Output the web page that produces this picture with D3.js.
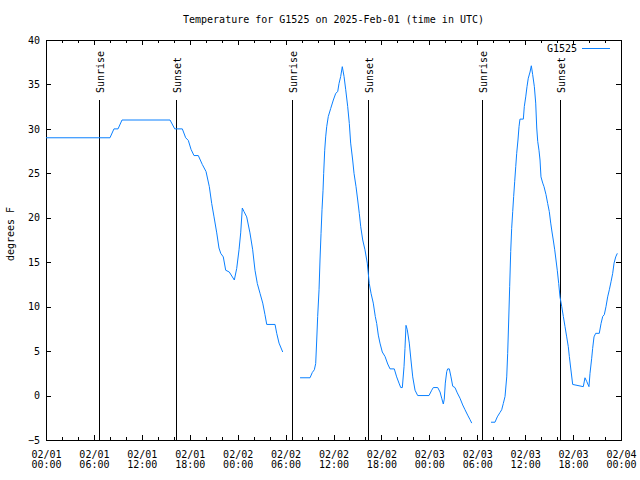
<!DOCTYPE html>
<html>
<head>
<meta charset="utf-8">
<script src="https://cdn.jsdelivr.net/npm/d3@7"></script>
<style>
  html, body { margin: 0; padding: 0; background: #fff; }
  svg { display: block; }
  text { font-family: "DejaVu Sans Mono", monospace; font-size: 10px; fill: #000; }
</style>
</head>
<body>
<svg id="chart" width="640" height="480"></svg>
<script>
// ---- data ----
const titleText = "Temperature for G1525 on 2025-Feb-01 (time in UTC)";
const yLabel = "degrees F";
const seriesName = "G1525";
const startTime = "2025-02-01T00:00:00Z";
const endTime = "2025-02-04T00:00:00Z";

// hours after start (UTC), null temperature = gap in record
const hours = [
  0, 8.01, 8.51, 9.02, 9.52, 15.53, 16.12, 17.07, 17.49, 17.82, 18.16, 18.53, 19.07, 19.57, 20.04,
  20.45, 20.75, 21.04, 21.38, 21.66, 21.88, 22.20, 22.50, 22.95, 23.58, 23.88, 24.17, 24.38, 24.58,
  24.79, 25.13, 25.54, 25.88, 26.17, 26.46, 26.80, 27.14, 27.42, 27.64, 28.68, 28.89, 29.18, 29.64,
  30.7,
  31.81, 33.06, 33.35, 33.60, 33.77, 33.90, 34.02, 34.19, 34.31, 34.44, 34.56, 34.69, 34.77, 34.90,
  35.02, 35.15, 35.35, 35.65, 35.98, 36.28, 36.53, 36.69, 36.90, 37.10, 37.32, 37.53, 37.78, 37.98,
  38.15, 38.40, 38.57, 38.82, 39.03, 39.23, 39.41, 39.66, 39.94, 40.23, 40.48, 40.70, 40.98, 41.23,
  41.41, 41.61, 41.82, 42.11, 42.45, 42.79, 43.08, 43.61, 43.91, 44.20, 44.42, 44.62, 44.83, 44.95,
  45.08, 45.24, 45.49, 45.70, 45.92, 46.21, 46.54, 47.96, 48.30, 48.50, 49.05, 49.34, 49.55, 49.75,
  49.87, 50.00, 50.18, 50.30, 50.50, 50.71, 50.93, 51.21, 51.50, 51.84, 52.18, 52.47, 52.80, 53.09,
  53.31,
  54.5,
  55.72, 56.22, 56.51, 56.85, 57.06, 57.26, 57.48, 57.69, 57.81, 57.94, 58.06, 58.19, 58.31, 58.44,
  58.56, 58.69, 58.82, 58.94, 59.10, 59.23, 59.35, 59.77, 59.89, 60.07, 60.23, 60.39, 60.61, 60.77,
  60.94, 61.15, 61.32, 61.45, 61.57, 61.73, 61.86, 61.98, 62.20, 62.36, 62.61, 62.82, 63.02, 63.20,
  63.36, 63.52, 63.70, 63.86, 64.02, 64.20, 64.36, 64.58, 64.78, 64.99, 65.20, 65.40, 65.53, 65.70,
  65.95, 67.28, 67.49, 67.70, 67.99, 68.12, 68.33, 68.45, 68.62, 68.83, 69.28, 69.50, 69.71, 69.91,
  70.12, 70.33, 70.54, 70.75, 70.96, 71.13, 71.34, 71.54
];
const temps = [
  29, 29, 30, 30, 31, 31, 30, 30, 29, 28.7, 27.7, 27, 27, 26, 25.2,
  23.5, 21.6, 20.1, 18.3, 16.6, 16, 15.6, 14.1, 13.9, 13, 14.3, 16.4, 18.3, 21.1,
  20.7, 20.1, 18.3, 16.4, 14.1, 12.6, 11.5, 10.4, 9.1, 8, 8, 7, 5.9, 4.9,
  null,
  2, 2, 2.6, 2.9, 3.6, 6.25, 8.9, 11.9, 15.25, 18.25, 20.9, 23.1, 25, 27.6,
  29.1, 30.25, 31.4, 32.3, 33.25, 34, 34.2, 35.1, 35.9, 37, 35.9, 34.4, 32.5, 30.6,
  28.4, 26.5, 25, 23.5, 22, 20.5, 19, 17.5, 16.4, 14.9, 12.6, 11.5, 10.4, 8.9,
  8.1, 6.8, 5.9, 4.9, 4.4, 3.55, 3, 3, 2.1, 1.4, 0.9, 0.9, 3.25, 5.3,
  7.9, 7.4, 5.9, 4, 2.1, 0.6, 0, 0, 0.6, 0.9, 0.9, 0.4, -0.3, -0.95,
  -0.4, 1.4, 2.7, 3, 3, 2.1, 1.05, 0.9, 0.3, -0.3, -1.06, -1.6, -2.2, -2.7,
  -3.1,
  null,
  -3, -3, -2.4, -1.9, -1.6, -0.9, -0.1, 2.1, 4.75, 8.5, 12.25, 16.2, 18.8, 20.7,
  22.4, 24.1, 25.75, 27.25, 28.75, 30.25, 31.1, 31.1, 32.5, 33.6, 34.75, 35.7, 36.4, 37.1,
  36.1, 34.75, 32.9, 30.1, 28.6, 27.6, 26.5, 24.6, 23.9, 23.5, 22.6, 21.6, 20.7, 19.4,
  18.4, 17.5, 16.4, 15.25, 14.1, 12.6, 11.1, 10, 8.9, 7.75, 6.6, 5.5, 4.4, 3.1,
  1.25, 1, 2, 1.6, 1, 2.5, 4.2, 5.3, 6.6, 7, 7, 8.1, 8.9, 9.1,
  10, 11.1, 11.9, 12.8, 13.75, 14.9, 15.6, 16
];

const sunLabels = ["Sunrise", "Sunset", "Sunrise", "Sunset", "Sunrise", "Sunset"];
const sunHours = [6.67, 16.31, 30.76, 40.36, 54.65, 64.36];

const yTickValues = [-5, 0, 5, 10, 15, 20, 25, 30, 35, 40];
const majorTickHours = [0, 6, 12, 18, 24, 30, 36, 42, 48, 54, 60, 66, 72];
const minorTickHours = [2, 4, 8, 10, 14, 16, 20, 22, 26, 28, 32, 34, 38, 40, 44, 46, 50, 52, 56, 58, 62, 64, 68, 70];

// ---- drawing ----
const svg = d3.select("#chart");
const margin = { left: 46, right: 19, top: 40, bottom: 40 };
const W = 640, H = 480;
const t0 = new Date(startTime).getTime();
const toDate = h => new Date(t0 + h * 3600e3);

const x = d3.scaleUtc().domain([new Date(startTime), new Date(endTime)]).range([margin.left, W - margin.right]);
const y = d3.scaleLinear().domain([-5, 40]).range([H - margin.bottom, margin.top]);

svg.append("rect").attr("width", W).attr("height", H).attr("fill", "#fff");

// title
svg.append("text").attr("x", (margin.left + W - margin.right) / 2).attr("y", 23)
  .attr("text-anchor", "middle").text(titleText);

// y label
svg.append("text").attr("transform", `translate(14,234) rotate(-90)`)
  .attr("text-anchor", "middle").text(yLabel);

const fmtDate = d3.utcFormat("%m/%d"), fmtTime = d3.utcFormat("%H:%M");

// x axes (ticks inward, mirrored top)
const xb = svg.append("g").attr("transform", `translate(0,${H - margin.bottom})`)
  .call(d3.axisBottom(x).tickValues(majorTickHours.map(toDate)).tickSizeInner(-5).tickSizeOuter(0).tickFormat(""));
xb.selectAll(".tick text").remove();
xb.selectAll(".tick").each(function(d) {
  const g = d3.select(this);
  g.append("text").attr("x", 0).attr("y", 18).attr("text-anchor", "middle").attr("fill", "#000").text(fmtDate(d));
  g.append("text").attr("x", 0).attr("y", 28).attr("text-anchor", "middle").attr("fill", "#000").text(fmtTime(d));
});
svg.append("g").attr("transform", `translate(0,${H - margin.bottom})`)
  .call(d3.axisBottom(x).tickValues(minorTickHours.map(toDate)).tickSizeInner(-3).tickSizeOuter(0).tickFormat(""));
svg.append("g").attr("transform", `translate(0,${margin.top})`)
  .call(d3.axisTop(x).tickValues(majorTickHours.map(toDate)).tickSizeInner(-5).tickSizeOuter(0).tickFormat(""));
svg.append("g").attr("transform", `translate(0,${margin.top})`)
  .call(d3.axisTop(x).tickValues(minorTickHours.map(toDate)).tickSizeInner(-3).tickSizeOuter(0).tickFormat(""));

// y axes
const yl = svg.append("g").attr("transform", `translate(${margin.left},0)`)
  .call(d3.axisLeft(y).tickValues(yTickValues).tickSizeInner(-5).tickSizeOuter(0));
yl.selectAll(".tick text").attr("x", -6).attr("dy", "0.32em").attr("text-anchor", "end")
  .style("font-family", "DejaVu Sans Mono").style("font-size", "10px");
svg.append("g").attr("transform", `translate(${W - margin.right},0)`)
  .call(d3.axisRight(y).tickValues(yTickValues).tickSizeInner(-5).tickSizeOuter(0).tickFormat(""));

svg.selectAll(".domain").remove();
svg.selectAll(".tick line").attr("stroke", "#000").attr("shape-rendering", "crispEdges");

// sunrise / sunset lines
const sun = svg.append("g");
sunHours.forEach((h, i) => {
  const xp = Math.round(x(toDate(h))) + 0.5;
  sun.append("line").attr("x1", xp).attr("x2", xp).attr("y1", 100).attr("y2", H - margin.bottom)
    .attr("stroke", "#000").attr("stroke-width", 1).attr("shape-rendering", "crispEdges");
  sun.append("text").attr("transform", `translate(${xp + 4},93) rotate(-90)`)
    .attr("text-anchor", "start").text(sunLabels[i]);
});

// border
svg.append("rect").attr("x", margin.left + 0.5).attr("y", margin.top + 0.5)
  .attr("width", W - margin.right - margin.left).attr("height", H - margin.bottom - margin.top)
  .attr("fill", "none").attr("stroke", "#000").attr("shape-rendering", "crispEdges");

// data line
const lineColor = "#0a80ff";
const data = hours.map((h, i) => ({ d: toDate(h), v: temps[i] }));
const line = d3.line().defined(p => p.v !== null).x(p => x(p.d)).y(p => y(p.v));
svg.append("path").datum(data).attr("d", line).attr("fill", "none")
  .attr("stroke", lineColor).attr("stroke-width", 1);

// legend
svg.append("text").attr("x", 577).attr("y", 52).attr("text-anchor", "end").text(seriesName);
svg.append("line").attr("x1", 582).attr("x2", 610).attr("y1", 48.5).attr("y2", 48.5)
  .attr("stroke", lineColor).attr("stroke-width", 1);
</script>
</body>
</html>
